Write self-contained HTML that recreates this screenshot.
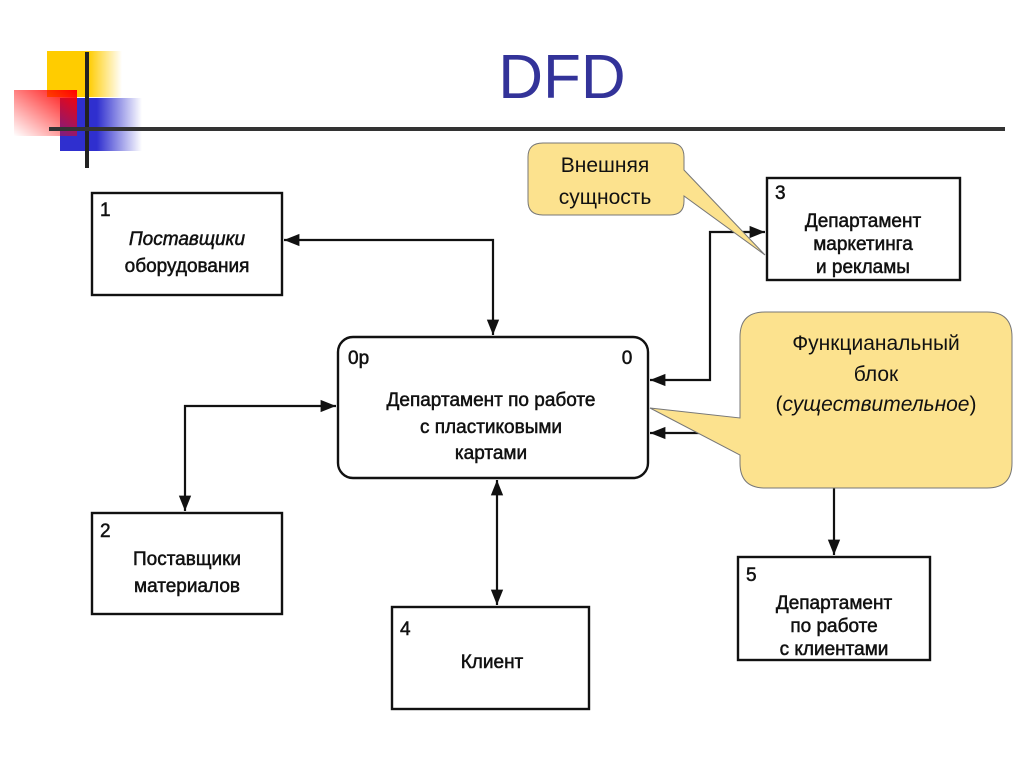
<!DOCTYPE html>
<html><head><meta charset="utf-8"><style>
html,body{margin:0;padding:0;background:#fff;width:1024px;height:768px;overflow:hidden}
svg{display:block}
text{font-family:"Liberation Sans","DejaVu Sans",sans-serif}
</style></head><body>
<svg width="1024" height="768" viewBox="0 0 1024 768" xmlns="http://www.w3.org/2000/svg">
<defs>
<linearGradient id="gy" x1="0" x2="1"><stop offset="0.55" stop-color="#ffcc00"/><stop offset="1" stop-color="#ffcc00" stop-opacity="0"/></linearGradient>
<linearGradient id="gb" x1="0" x2="1"><stop offset="0.45" stop-color="#2f2fcf"/><stop offset="1" stop-color="#2f2fcf" stop-opacity="0"/></linearGradient>
<linearGradient id="gr" x1="0" y1="1" x2="1" y2="0"><stop offset="0" stop-color="#ff0000" stop-opacity="0"/><stop offset="1" stop-color="#ff0000"/></linearGradient>
<marker id="a" viewBox="0 0 10 10" refX="10" refY="5" markerWidth="7" markerHeight="7" orient="auto-start-reverse"><path d="M0,1 L10,5 L0,9 z" fill="#111"/></marker>
</defs>
<rect x="47" y="51" width="75" height="46" fill="url(#gy)"/>
<rect x="60" y="98" width="82" height="53" fill="url(#gb)"/>
<rect x="14" y="90" width="63" height="46" fill="url(#gr)"/>
<line x1="87" y1="52" x2="87" y2="168" stroke="#222" stroke-width="4"/>
<line x1="49" y1="129" x2="1005" y2="129" stroke="#333" stroke-width="4"/>
<text x="562" y="98" font-size="62" fill="#333399" text-anchor="middle">DFD</text>

<g fill="#fff" stroke="#111" stroke-width="2.4">
<rect x="92" y="193" width="190" height="102"/>
<rect x="92" y="513" width="190" height="101"/>
<rect x="392" y="607" width="197" height="102"/>
<rect x="767" y="178" width="193" height="102"/>
<rect x="738" y="557" width="192" height="103"/>
<rect x="338" y="337" width="310" height="141" rx="15"/>
</g>

<g stroke="#111" stroke-width="2.2" fill="none">
<polyline points="284,240 493,240 493,335" marker-start="url(#a)" marker-end="url(#a)"/>
<polyline points="336,406 185,406 185,511" marker-start="url(#a)" marker-end="url(#a)"/>
<line x1="497" y1="480" x2="497" y2="605" marker-start="url(#a)" marker-end="url(#a)"/>
<polyline points="765,232 710,232 710,380 650,380" marker-start="url(#a)" marker-end="url(#a)"/>
<line x1="700" y1="433" x2="650" y2="433" marker-end="url(#a)"/>
<line x1="834" y1="485" x2="834" y2="555" marker-end="url(#a)"/>
</g>

<g font-size="19" fill="#111" stroke="#111" stroke-width="0.5" text-anchor="middle">
<text x="100" y="216" text-anchor="start">1</text>
<text x="187" y="245" font-style="italic">Поставщики</text>
<text x="187" y="272">оборудования</text>
<text x="100" y="537" text-anchor="start">2</text>
<text x="187" y="565">Поставщики</text>
<text x="187" y="592">материалов</text>
<text x="400" y="635" text-anchor="start">4</text>
<text x="492" y="668">Клиент</text>
<text x="775" y="199" text-anchor="start">3</text>
<text x="863" y="227">Департамент</text>
<text x="863" y="250">маркетинга</text>
<text x="863" y="273">и рекламы</text>
<text x="746" y="581" text-anchor="start">5</text>
<text x="834" y="609">Департамент</text>
<text x="834" y="632">по работе</text>
<text x="834" y="655">с клиентами</text>
<text x="348" y="364" text-anchor="start">0р</text>
<text x="627" y="364">0</text>
<text x="491" y="406">Департамент по работе</text>
<text x="491" y="433">с пластиковыми</text>
<text x="491" y="459">картами</text>
</g>

<g fill="#fce28e" stroke="#777" stroke-width="1">
<path d="M543,143 H670 Q684,143 684,157 V170 L765,255 L684,196 V201 Q684,215 670,215 H543 Q528,215 528,201 V157 Q528,143 543,143 Z"/>
<path d="M765,312 H987 Q1012,312 1012,337 V463 Q1012,488 987,488 H765 Q740,488 740,463 V455 L650,408 L740,418 V337 Q740,312 765,312 Z"/>
</g>
<g font-size="21" fill="#111" text-anchor="middle">
<text x="605" y="172">Внешняя</text>
<text x="605" y="204">сущность</text>
<text x="876" y="350">Функцианальный</text>
<text x="876" y="381">блок</text>
<text x="876" y="411">(<tspan font-style="italic">существительное</tspan>)</text>
</g>
</svg>
</body></html>
